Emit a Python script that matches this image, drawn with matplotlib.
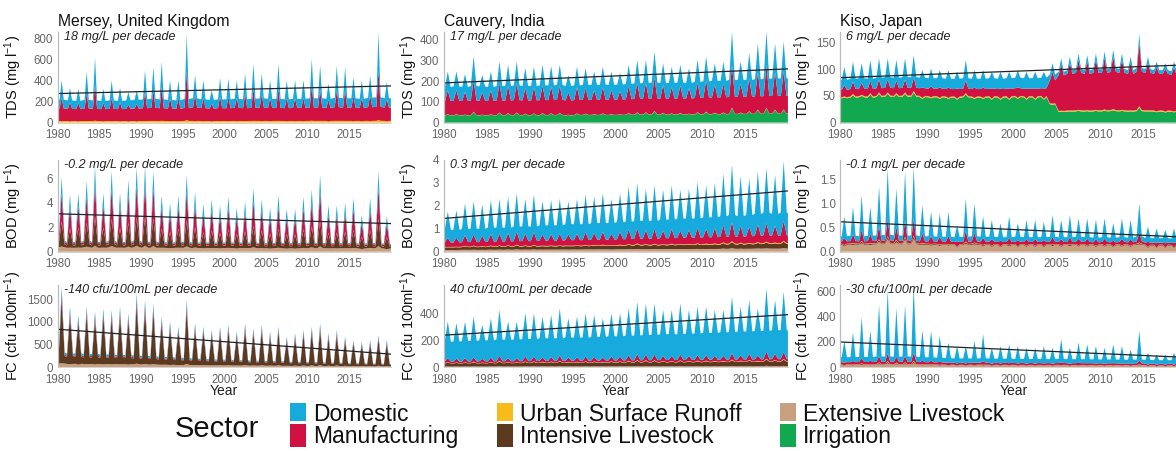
import numpy as np
import matplotlib
matplotlib.use('Agg')
import matplotlib.pyplot as plt
from matplotlib.patches import Rectangle
from matplotlib.ticker import FormatStrFormatter

plt.rcParams['font.family'] = ['Liberation Sans', 'DejaVu Sans']
plt.rcParams['mathtext.fontset'] = 'custom'
plt.rcParams['mathtext.rm'] = 'Liberation Sans'
plt.rcParams['mathtext.it'] = 'Liberation Sans:italic'

# ---------------- data ----------------
years = list(range(1980, 2020))
rivers = ['Mersey, United Kingdom', 'Cauvery, India', 'Kiso, Japan']
# stack order bottom -> top
sectors = ['Irrigation', 'Extensive Livestock', 'Intensive Livestock',
           'Urban Surface Runoff', 'Manufacturing', 'Domestic']
sector_colors = ['#12A84F', '#C9A07F', '#5B3A1F', '#F7BB1C', '#D11141', '#17AADD']
legend_order = ['Domestic', 'Manufacturing', 'Urban Surface Runoff',
                'Intensive Livestock', 'Extensive Livestock', 'Irrigation']

# annual peak and annual base (low) of the total concentration
mersey_tds_peak = [400, 330, 320, 480, 615, 320, 400, 330, 290, 305, 495, 525, 575, 400, 400, 840, 450, 400, 305, 425,
                   415, 400, 465, 555, 465, 400, 555, 400, 400, 400, 605, 540, 370, 540, 525, 430, 400, 445, 855, 385]
mersey_tds_low = [215, 210, 205, 215, 210, 205, 210, 205, 210, 215, 220, 225, 220, 215, 210, 225, 230, 220, 215, 220,
                  220, 225, 220, 225, 230, 225, 225, 220, 225, 225, 230, 230, 225, 235, 230, 230, 225, 235, 240, 230]
cauvery_tds_peak = [247, 247, 235, 320, 230, 247, 295, 280, 295, 263, 270, 280, 274, 280, 230, 270, 263, 247, 270, 247,
                    240, 280, 303, 303, 343, 287, 270, 280, 263, 303, 320, 287, 295, 440, 295, 335, 384, 440, 384, 392]
cauvery_tds_low = [172, 175, 172, 177, 175, 172, 177, 177, 180, 177, 177, 180, 180, 182, 177, 180, 182, 182, 184, 182,
                   184, 187, 190, 192, 194, 192, 192, 194, 192, 197, 200, 202, 202, 207, 207, 207, 210, 212, 214, 214]
kiso_tds_peak = [104, 114, 111, 117, 120, 120, 117, 120, 126, 98, 101, 98, 98, 95, 117, 98, 98, 95, 95, 95,
                 98, 95, 95, 95, 111, 120, 123, 129, 126, 129, 133, 136, 129, 123, 165, 123, 114, 111, 114, 105]
kiso_tds_low = [80, 82, 83, 82, 84, 85, 84, 85, 85, 84, 83, 83, 82, 82, 83, 82, 82, 83, 82, 83,
                84, 83, 83, 84, 90, 95, 98, 100, 98, 100, 100, 102, 100, 98, 102, 100, 98, 98, 96, 95]
# source mix regime of the Kiso TDS load per year ('a' irrigation dominated, 'm' mixed, 'b' manufacturing dominated)
kiso_tds_regime = ['a'] * 24 + ['m'] + ['b'] * 15

mersey_bod_peak = [6.1, 4.7, 4.8, 5.8, 7.0, 4.8, 6.6, 4.8, 5.9, 6.9, 7.0, 6.6, 4.6, 4.0, 4.6, 6.3, 4.9, 3.9, 4.3, 3.8,
                   4.5, 3.6, 4.1, 5.2, 4.3, 3.6, 4.6, 3.5, 3.5, 4.5, 5.1, 6.3, 3.8, 3.8, 4.0, 4.4, 3.0, 4.4, 6.6, 2.9]
mersey_bod_low = [0.9, 0.8, 0.8, 0.9, 0.8, 0.8, 0.9, 0.8, 0.8, 0.9, 0.8, 0.8, 0.8, 0.75, 0.8, 0.8, 0.75, 0.75, 0.75, 0.75,
                  0.75, 0.75, 0.75, 0.75, 0.7, 0.7, 0.75, 0.7, 0.7, 0.7, 0.75, 0.7, 0.7, 0.7, 0.7, 0.7, 0.65, 0.7, 0.7, 0.65]
cauvery_bod_peak = [1.75, 1.8, 2.1, 2.2, 2.05, 2.25, 2.3, 2.4, 2.55, 2.3, 2.5, 2.2, 2.25, 2.3, 2.2, 2.3, 2.5, 2.4, 2.55, 2.3,
                    2.55, 2.85, 3.0, 2.75, 2.9, 2.7, 2.9, 2.7, 2.75, 3.05, 2.9, 3.0, 3.4, 3.8, 3.3, 3.2, 3.5, 3.65, 3.35, 3.95]
cauvery_bod_low = [0.95, 0.95, 1.0, 1.0, 1.0, 1.05, 1.05, 1.05, 1.1, 1.1, 1.1, 1.15, 1.15, 1.15, 1.2, 1.2, 1.2, 1.25, 1.25, 1.25,
                   1.3, 1.3, 1.35, 1.35, 1.35, 1.4, 1.4, 1.45, 1.45, 1.45, 1.5, 1.5, 1.55, 1.6, 1.55, 1.6, 1.65, 1.7, 1.65, 1.7]
kiso_bod_peak = [0.73, 0.93, 1.17, 0.93, 1.35, 1.73, 1.31, 1.66, 1.76, 0.97, 0.83, 0.79, 0.83, 0.55, 1.1, 1.0, 0.73, 0.66, 0.59, 0.73,
                 0.59, 0.66, 0.66, 0.62, 0.76, 0.66, 0.76, 0.69, 0.69, 0.66, 0.69, 0.59, 0.69, 0.66, 1.0, 0.52, 0.48, 0.45, 0.48, 0.66]
kiso_bod_low = [0.32, 0.33, 0.32, 0.33, 0.34, 0.35, 0.34, 0.33, 0.34, 0.32, 0.32, 0.31, 0.31, 0.30, 0.31, 0.32, 0.31, 0.31, 0.30, 0.30,
                0.31, 0.30, 0.30, 0.30, 0.31, 0.30, 0.30, 0.31, 0.30, 0.29, 0.30, 0.29, 0.30, 0.29, 0.32, 0.28, 0.28, 0.28, 0.27, 0.28]

mersey_fc_peak = [1780, 1340, 1150, 1340, 1230, 1300, 1265, 1340, 1190, 1630, 1485, 1410, 1120, 1010, 900, 1485, 970, 900, 825, 900,
                  935, 790, 970, 860, 935, 790, 900, 680, 750, 825, 900, 970, 750, 825, 680, 600, 565, 600, 710, 600]
mersey_fc_low = [330, 300, 310, 290, 295, 280, 285, 270, 275, 260, 250, 245, 230, 225, 210, 205, 190, 185, 175, 170,
                 165, 155, 155, 145, 145, 135, 135, 125, 120, 120, 115, 110, 100, 105, 95, 90, 90, 80, 85, 75]
cauvery_fc_peak = [338, 326, 338, 375, 314, 363, 425, 338, 338, 400, 400, 375, 388, 437, 363, 375, 400, 388, 363, 400,
                   400, 437, 486, 474, 474, 425, 425, 474, 425, 450, 450, 425, 425, 523, 450, 499, 437, 585, 499, 560]
cauvery_fc_low = [190, 190, 195, 195, 200, 200, 205, 205, 205, 210, 210, 215, 215, 215, 220, 220, 220, 225, 225, 230,
                  230, 235, 235, 240, 240, 245, 245, 245, 250, 250, 255, 255, 260, 260, 265, 265, 270, 270, 275, 275]
kiso_fc_peak = [208, 276, 397, 289, 492, 614, 465, 492, 640, 289, 289, 249, 195, 168, 168, 208, 262, 154, 168, 181,
                168, 154, 154, 168, 154, 222, 154, 195, 181, 168, 154, 181, 168, 140, 289, 114, 100, 100, 114, 154]
kiso_fc_low = [80, 80, 82, 82, 85, 85, 84, 85, 85, 80, 78, 76, 72, 70, 70, 70, 72, 68, 68, 68,
               66, 66, 66, 65, 65, 66, 64, 64, 64, 62, 62, 62, 60, 60, 62, 58, 56, 56, 56, 56]

# sector shares (stack order) at the annual base and at the annual peak
mersey_tds_share_low = [0, 0, 0, 0.07, 0.55, 0.38]
mersey_tds_share_peak = [0, 0, 0, 0.03, 0.55, 0.42]
cauvery_tds_share_low = [0.20, 0, 0, 0.005, 0.40, 0.395]
cauvery_tds_share_peak = [0.16, 0, 0, 0.005, 0.47, 0.365]
kiso_tds_share_low_a = [0.57, 0, 0, 0.025, 0.17, 0.235]
kiso_tds_share_peak_a = [0.45, 0, 0, 0.02, 0.20, 0.33]
kiso_tds_share_low_m = [0.38, 0, 0, 0.02, 0.48, 0.12]
kiso_tds_share_peak_m = [0.30, 0, 0, 0.02, 0.53, 0.15]
kiso_tds_share_low_b = [0.21, 0, 0, 0.02, 0.70, 0.07]
kiso_tds_share_peak_b = [0.17, 0, 0, 0.015, 0.72, 0.095]
mersey_bod_share_low = [0, 0.40, 0.25, 0.02, 0.20, 0.13]
mersey_bod_share_peak = [0, 0.07, 0.33, 0.01, 0.38, 0.21]
cauvery_bod_share_low = [0, 0.08, 0.12, 0.02, 0.20, 0.58]
cauvery_bod_share_peak = [0, 0.04, 0.07, 0.01, 0.22, 0.66]
kiso_bod_share_low = [0, 0.45, 0.05, 0.02, 0.15, 0.33]
kiso_bod_share_peak = [0, 0.15, 0.03, 0.01, 0.20, 0.61]
mersey_fc_share_low = [0, 0.25, 0.50, 0.01, 0.09, 0.15]
mersey_fc_share_peak = [0, 0.05, 0.80, 0.0, 0.07, 0.08]
cauvery_fc_share_low = [0, 0.03, 0.12, 0.01, 0.06, 0.78]
cauvery_fc_share_peak = [0, 0.02, 0.08, 0.01, 0.09, 0.80]
kiso_fc_share_low = [0, 0.25, 0.03, 0.01, 0.22, 0.49]
kiso_fc_share_peak = [0, 0.05, 0.02, 0.01, 0.10, 0.82]

# trend line values at 1980 and 2020
trend_tds = [(275, 347), (192, 260), (84, 108)]
trend_bod = [(3.1, 2.3), (1.45, 2.65), (0.62, 0.30)]
trend_fc = [(840, 290), (238, 390), (200, 78)]

trend_text_tds = ['18 mg/L per decade', '17 mg/L per decade', '6 mg/L per decade']
trend_text_bod = ['-0.2 mg/L per decade', '0.3 mg/L per decade', '-0.1 mg/L per decade']
trend_text_fc = ['-140 cfu/100mL per decade', '40 cfu/100mL per decade', '-30 cfu/100mL per decade']

ylabels = ['TDS (mg l$^{-1}$)', 'BOD (mg l$^{-1}$)', 'FC (cfu 100ml$^{-1}$)']
ylims = [[860, 440, 170], [7.5, 4.0, 1.9], [1815, 610, 650]]
yticks = [[[0, 200, 400, 600, 800], [0, 100, 200, 300, 400], [0, 50, 100, 150]],
          [[0, 2, 4, 6], [0, 1, 2, 3, 4], [0, 0.5, 1.0, 1.5]],
          [[0, 500, 1000, 1500], [0, 200, 400], [0, 200, 400, 600]]]
xticks = [1980, 1985, 1990, 1995, 2000, 2005, 2010, 2015]

# ---------------- figure ----------------
W, H = 1176, 451
fig = plt.figure(figsize=(W / 100, H / 100), dpi=100)

col_px = [(57.5, 391), (443.5, 788), (840, 1187)]
row_px = [(31.7, 122.6), (160, 251.7), (285, 367.3)]
label_off = [-33, -23.5, -26.5]
# half width (in years) of the drawn seasonal peak per panel
spike_half = [[0.25, 0.33, 0.3], [0.36, 0.36, 0.3], [0.36, 0.36, 0.3]]

panels = [
    [(mersey_tds_peak, mersey_tds_low, mersey_tds_share_low, mersey_tds_share_peak),
     (cauvery_tds_peak, cauvery_tds_low, cauvery_tds_share_low, cauvery_tds_share_peak),
     (kiso_tds_peak, kiso_tds_low, None, None)],
    [(mersey_bod_peak, mersey_bod_low, mersey_bod_share_low, mersey_bod_share_peak),
     (cauvery_bod_peak, cauvery_bod_low, cauvery_bod_share_low, cauvery_bod_share_peak),
     (kiso_bod_peak, kiso_bod_low, kiso_bod_share_low, kiso_bod_share_peak)],
    [(mersey_fc_peak, mersey_fc_low, mersey_fc_share_low, mersey_fc_share_peak),
     (cauvery_fc_peak, cauvery_fc_low, cauvery_fc_share_low, cauvery_fc_share_peak),
     (kiso_fc_peak, kiso_fc_low, kiso_fc_share_low, kiso_fc_share_peak)],
]
trends = [trend_tds, trend_bod, trend_fc]
trend_texts = [trend_text_tds, trend_text_bod, trend_text_fc]

kiso_low_sets = {'a': kiso_tds_share_low_a, 'm': kiso_tds_share_low_m, 'b': kiso_tds_share_low_b}
kiso_peak_sets = {'a': kiso_tds_share_peak_a, 'm': kiso_tds_share_peak_m, 'b': kiso_tds_share_peak_b}


def shares_for(sl, sp):
    if sl is None:  # Kiso TDS: regime-dependent source mix
        return ([kiso_low_sets[g] for g in kiso_tds_regime],
                [kiso_peak_sets[g] for g in kiso_tds_regime])
    return [sl] * len(years), [sp] * len(years)


def build(peak, low, sl_list, sp_list, hw):
    t = [years[0]]
    v = [np.array(sl_list[0]) * low[0]]
    for i, y in enumerate(years):
        base = np.array(sl_list[i]) * low[i]
        top = np.array(sp_list[i]) * peak[i]
        t += [y + 0.5 - hw, y + 0.5, y + 0.5 + hw]
        v += [base, top, base]
    t.append(years[-1] + 0.99)
    v.append(np.array(sl_list[-1]) * low[-1])
    return np.array(t), np.array(v).T


grey = '#666666'
for r in range(3):
    for c in range(3):
        l, rr = col_px[c]
        tp, bt = row_px[r]
        ax = fig.add_axes([l / W, 1 - bt / H, (rr - l) / W, (bt - tp) / H])
        peak, low, sl, sp = panels[r][c]
        sl_list, sp_list = shares_for(sl, sp)
        t, vals = build(peak, low, sl_list, sp_list, spike_half[r][c])
        ax.stackplot(t, *vals, colors=sector_colors, linewidth=0, antialiased=True)
        t0, t1 = trends[r][c]
        ax.plot([1980, 2020], [t0, t1], color='#222222', lw=0.9)
        ax.set_xlim(1980, 2020)
        ax.set_ylim(0, ylims[r][c])
        ax.set_yticks(yticks[r][c])
        ax.set_xticks(xticks)
        if r == 1 and c == 2:
            ax.yaxis.set_major_formatter(FormatStrFormatter('%.1f'))
        for s in ['top', 'right']:
            ax.spines[s].set_visible(False)
        ax.spines['left'].set_color('#bbbbbb')
        ax.spines['bottom'].set_color('#cccccc')
        ax.spines['left'].set_linewidth(0.9)
        ax.spines['bottom'].set_linewidth(0.6)
        ax.tick_params(axis='both', length=0, labelsize=8.3, labelcolor=grey)
        ax.tick_params(axis='x', pad=4.5)
        ax.tick_params(axis='y', pad=3)
        ax.set_ylabel(ylabels[r], fontsize=10.5, color='#111111')
        ax.yaxis.set_label_coords(label_off[c] / (rr - l), 0.5)
        ax.text(6 / (rr - l), 1 - 5 / (bt - tp), trend_texts[r][c], transform=ax.transAxes,
                fontsize=9, style='italic', color='#222222', va='center', ha='left')
        if r == 2:
            ax.set_xlabel('Year', fontsize=10, color='#222222', labelpad=-1)
        if r == 0:
            fig.text(l / W, 1 - 26 / H, rivers[c], fontsize=11.3, color='#111111',
                     ha='left', va='baseline')

# ---------------- legend ----------------
fig.text(175 / W, 1 - 429 / H, 'Sector', fontsize=21, ha='left', va='center', color='#111111')
col_x = [290, 497, 780]
rows_patch = [(403, 421), (424, 447)]
rows_base = [421, 443]
for k, name in enumerate(legend_order):
    cx = col_x[k // 2]
    ri = k % 2
    y0, y1 = rows_patch[ri]
    color = sector_colors[sectors.index(name)]
    fig.add_artist(Rectangle((cx / W, 1 - y1 / H), 16 / W, (y1 - y0) / H,
                             transform=fig.transFigure, facecolor=color, edgecolor='none'))
    fig.text((cx + 23) / W, 1 - rows_base[ri] / H, name, fontsize=16.5, ha='left',
             va='baseline', color='#111111')

fig.savefig('out.png', dpi=100)
